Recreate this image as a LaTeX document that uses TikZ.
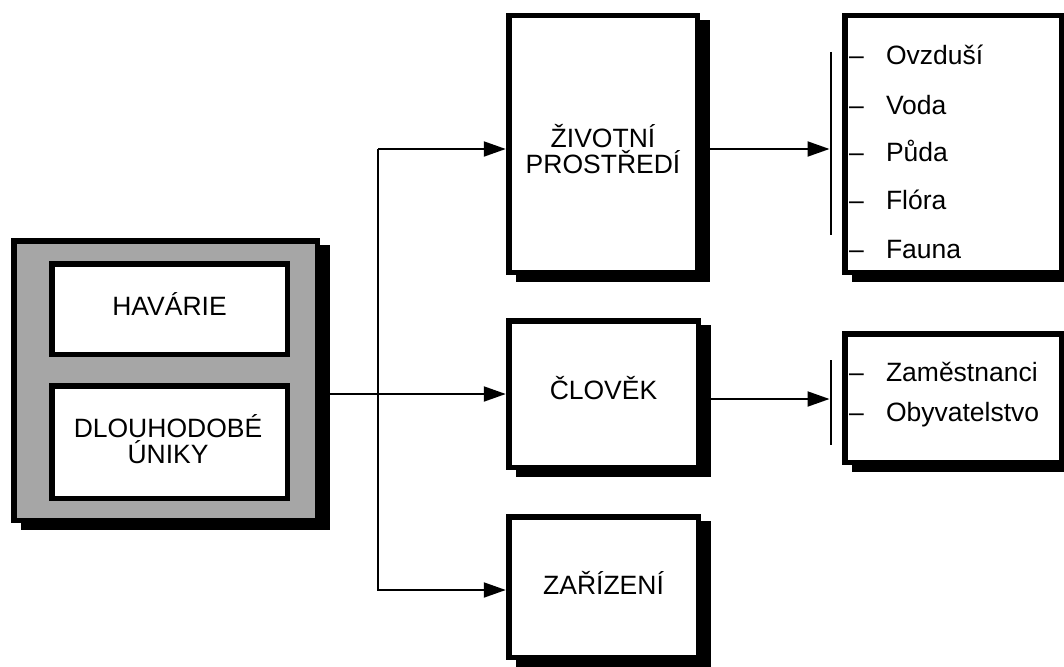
\documentclass[tikz,border=0pt]{standalone}
\usepackage{fontspec}
\setmainfont{Liberation Sans}
\usetikzlibrary{arrows.meta,shadows}
\definecolor{boxgray}{RGB}{166,166,166}
\tikzset{
  txt/.style={font=\fontsize{26.5}{25.5}\selectfont, inner sep=0pt, outer sep=0pt},
  frame/.style={draw=black, line width=5.5pt, fill=white, inner sep=0pt, outer sep=0pt,
     general shadow={fill=black, draw=black, line width=5.5pt, shadow xshift=10pt, shadow yshift=-7pt}},
  plainframe/.style={draw=black, line width=5.5pt, fill=white, inner sep=0pt, outer sep=0pt},
  conn/.style={line width=2pt},
  arr/.style={conn, -{Triangle[length=22pt,width=15pt]}},
  barline/.style={line width=2.5pt},
}
\begin{document}
\begin{tikzpicture}[x=1pt,y=-1pt]
\useasboundingbox (0,0) rectangle (1064,666);
% source group
\node[frame, fill=boxgray, minimum width=303.5pt, minimum height=279.5pt] (src) at (165.5,380.5) {};
\node[plainframe, minimum width=235.5pt, minimum height=90.5pt] (hav) at (169.5,309) {};
\node[plainframe, minimum width=235.5pt, minimum height=112.5pt] (dlo) at (169.5,442) {};
\node[txt, anchor=base] (havt) at (169.5,315) {HAVÁRIE};
\node[txt, anchor=base, align=center] (dlot) at (168,463) {DLOUHODOBÉ\\ÚNIKY};
% targets
\node[frame, minimum width=188.5pt, minimum height=256.5pt] (ziv) at (603,144) {};
\node[frame, minimum width=189.5pt, minimum height=146.5pt] (clo) at (603.5,394) {};
\node[frame, minimum width=189.5pt, minimum height=140.5pt] (zar) at (603.5,587) {};
\node[txt, anchor=base, align=center] (zivt) at (603,173) {ŽIVOTNÍ\\PROSTŘEDÍ};
\node[txt, anchor=base] (clot) at (603.5,399) {ČLOVĚK};
\node[txt, anchor=base] (zart) at (603.5,594) {ZAŘÍZENÍ};
% lists
\node[frame, minimum width=216.5pt, minimum height=256.5pt] (lst1) at (953,144) {};
\node[frame, minimum width=216.5pt, minimum height=128.5pt] (lst2) at (953,398) {};
\foreach \t/\y [count=\i] in {Ovzduší/65,Voda/114,Půda/161,Flóra/209,Fauna/258}{
  \node[txt, anchor=base west] (da\i) at (849,\y) {–};
  \node[txt, anchor=base west] (la\i) at (886,\y) {\t};
}
\foreach \t/\y [count=\i] in {Zaměstnanci/381,Obyvatelstvo/421}{
  \node[txt, anchor=base west] (db\i) at (849,\y) {–};
  \node[txt, anchor=base west] (lb\i) at (886,\y) {\t};
}
% connectors
\coordinate (jm) at (378,394);
\coordinate (jt) at (378,149);
\coordinate (jb) at (378,590);
\draw[conn] (src.east |- jm) -- (jm);
\draw[arr, shorten >=3pt] (jm) -- (clo.west |- jm);
\draw[arr, shorten >=3pt] (jt) -- (jb) -- (zar.west |- jb);
\draw[arr, shorten >=3pt] (jt) -- (ziv.west |- jt);
% bars
\coordinate (b1t) at (831,52);
\coordinate (b1b) at (831,235);
\coordinate (b1a) at (831,149);
\coordinate (b2t) at (831,360);
\coordinate (b2b) at (831,445);
\coordinate (b2a) at (831,399);
\draw[barline] (b1t) -- (b1b);
\draw[barline] (b2t) -- (b2b);
\draw[arr, shorten >=1.5pt] (ziv.east |- b1a) -- (b1a);
\draw[arr, shorten >=1.5pt] (clo.east |- b2a) -- (b2a);
\end{tikzpicture}
\end{document}
